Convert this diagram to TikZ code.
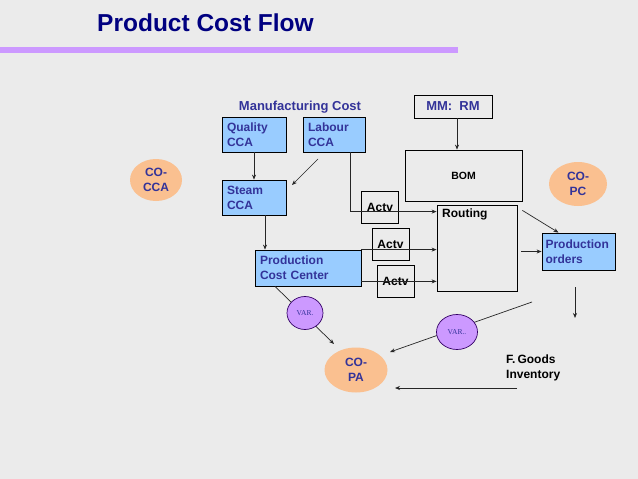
\documentclass[tikz,border=0pt]{standalone}
\usepackage{fontspec}
\setmainfont{Liberation Sans}
\newfontfamily\varfont{Liberation Serif}
\usetikzlibrary{arrows.meta,shapes.geometric}
\definecolor{bg}{HTML}{EBEBEB}
\definecolor{titleblue}{HTML}{000080}
\definecolor{purpleline}{HTML}{CC99FF}
\definecolor{boxblue}{HTML}{99CCFF}
\definecolor{txtblue}{HTML}{333399}
\definecolor{peach}{HTML}{FAC090}
\definecolor{varpurple}{HTML}{CC99FF}
\definecolor{vardraw}{HTML}{330066}
\begin{document}
\begin{tikzpicture}[x=1pt,y=-1pt,
  bluebox/.style={draw=black, fill=boxblue, line width=0.8pt, inner xsep=5pt, inner ysep=0pt,
    align=left, text=txtblue, font=\bfseries\fontsize{12}{15}\selectfont},
  plainbox/.style={draw=black, line width=0.8pt, inner sep=0pt},
  actvbox/.style={plainbox, minimum width=37, minimum height=32, font=\bfseries\fontsize{12}{14}\selectfont},
  coell/.style={ellipse, fill=peach, inner sep=0pt, align=center, text=txtblue,
    font=\bfseries\fontsize{12}{15}\selectfont},
  varcirc/.style={ellipse, fill=varpurple, draw=vardraw, line width=0.7pt, inner sep=0pt,
    text=txtblue, font=\varfont\fontsize{7.5}{9}\selectfont},
  arr/.style={draw=black!85, line width=0.7pt, -{Stealth[length=5pt,width=4pt]}},
  ln/.style={draw=black!85, line width=0.7pt}
]
\fill[bg] (0,0) rectangle (638,479);
\useasboundingbox (0,0) rectangle (638,479);

% title
\node[anchor=base west, inner sep=0pt, text=titleblue, font=\bfseries\fontsize{24.5}{28}\selectfont] (title) at (97,31) {Product Cost Flow};
\fill[purpleline] (0,47) rectangle (458,53);

% header
\node[text=txtblue, font=\bfseries\fontsize{13}{15}\selectfont, inner sep=0pt] (mfg) at (300,107) {Manufacturing Cost};

% blue boxes
\node[bluebox, minimum height=35, text width=54] (quality) at (254,134.5) {Quality\\CCA};
\node[bluebox, minimum height=35, text width=52] (labour) at (334,134.5) {Labour\\CCA};
\node[bluebox, minimum height=35, text width=54] (steam) at (254,197.5) {Steam\\CCA};
\node[bluebox, minimum height=36, text width=96] (pcc) at (308,268) {Production\\Cost Center};
\node[bluebox, minimum height=37, text width=66, inner xsep=3.5pt] (porders) at (578.5,251.5) {Production\\orders};

% MM RM and BOM
\node[plainbox, minimum width=78, minimum height=23, text=txtblue, font=\bfseries\fontsize{13}{15}\selectfont] (mmrm) at (453,106.5) {MM:\ \ RM};
\node[plainbox, minimum width=117, minimum height=51, font=\bfseries\fontsize{10.5}{12}\selectfont] (bom) at (463.5,175.5) {BOM};

% routing
\node[plainbox, minimum width=80, minimum height=86] (routing) at (477,248) {};
\node[anchor=north west, inner sep=0pt, font=\bfseries\fontsize{12}{14}\selectfont] (routingtxt) at (442,209) {Routing};

% actv boxes
\node[actvbox] (actv1) at (380,207) {Actv};
\node[actvbox] (actv2) at (390.5,244) {Actv};
\node[actvbox] (actv3) at (395.5,281) {Actv};

% ellipses
\node[coell, minimum width=52, minimum height=42] (cocca) at (156,180) {CO-\\CCA};
\node[coell, minimum width=58, minimum height=44] (copc) at (578,184) {CO-\\PC};
\node[coell, minimum width=63, minimum height=45] (copa) at (356,370) {CO-\\PA};

% F goods
\node[anchor=north west, align=left, inner sep=0pt, font=\bfseries\fontsize{12}{15}\selectfont] (fgoods) at (506,355) {F.\,Goods\\Inventory};

% coordinates for free ends
\coordinate (lstart) at (318,159);
\coordinate (lend) at (292,185);
\coordinate (pdown1) at (575,287);
\coordinate (pdown2) at (575,318);
\coordinate (vstart) at (532,302);
\coordinate (vend) at (390,352);
\coordinate (fgstart) at (517,388);
\coordinate (fgend) at (395,388);
\coordinate (var1end) at (334,344);

% connectors
\draw[arr] (quality.south) -- (steam.north);
\draw[arr] (lstart) -- (lend);
\draw[arr] ([xshift=16pt]labour.south) |- ([yshift=-7pt]routing.north west);
\draw[arr] ([xshift=4pt]mmrm.south) -- ([xshift=4pt]mmrm.south |- bom.north);
\draw[arr] ([xshift=11pt]steam.south) -- ([xshift=11pt]steam.south |- pcc.north);
\draw[arr] (pcc.north east) -- (pcc.north east -| routing.west);
\draw[arr] ([yshift=5pt]pcc.south east) -- ([yshift=5pt]pcc.south east -| routing.west);
\draw[arr] ([yshift=-9pt]bom.south east) -- ([xshift=-20pt]porders.north);
\draw[arr] ([xshift=4pt]routing.east |- porders.west) -- (porders.west);
\draw[arr] (pdown1) -- (pdown2);

% variance lines
\draw[arr] ([xshift=-33pt]pcc.south) -- (var1end);
\draw[arr] (vstart) -- (vend);
\draw[arr] (fgstart) -- (fgend);

\node[varcirc, minimum width=36, minimum height=33] (var1) at (305,313) {VAR.};
\node[varcirc, minimum width=41, minimum height=35] (var2) at (457,332) {VAR..};
\end{tikzpicture}
\end{document}
